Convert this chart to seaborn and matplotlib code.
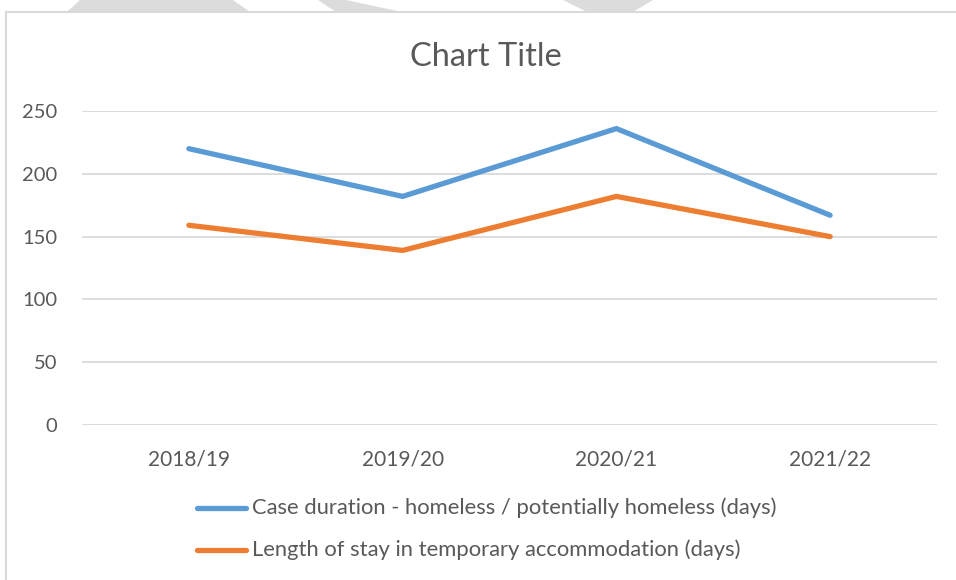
import pandas as pd
import matplotlib
matplotlib.use("Agg")
import matplotlib.pyplot as plt
import seaborn as sns
from matplotlib.patches import Polygon, Rectangle

years = ["2018/19", "2019/20", "2020/21", "2021/22"]
case_duration = [220, 182, 236, 167]
stay_length = [159, 139, 182, 150]
series_names = ["Case duration - homeless / potentially homeless (days)",
                "Length of stay in temporary accommodation (days)"]
colors = ["#5B9BD5", "#ED7D31"]

df = pd.DataFrame({
    "year": years * 2,
    "days": case_duration + stay_length,
    "series": [series_names[0]] * 4 + [series_names[1]] * 4,
})

sns.set_style("white")
plt.rcParams["font.family"] = ["Lato", "DejaVu Sans"]

W, H = 956, 580
fig = plt.figure(figsize=(W / 100, H / 100), dpi=100)


def px(x, y):
    return (x / W, 1 - y / H)


# bits of the page background peeking in above the chart frame
for pts in [[(80, 0), (233, 0), (250, 12), (67, 12)],
            [(318, 0), (346, 0), (402, 12), (336, 12)],
            [(563, 0), (653, 0), (633, 12), (587, 12)]]:
    fig.patches.append(Polygon([px(*p) for p in pts], closed=True,
                               transform=fig.transFigure, facecolor="#dcdcdc",
                               edgecolor="none"))
fig.patches.append(Rectangle(px(6, 600), (W + 10) / W, 588 / H,
                             transform=fig.transFigure, facecolor="none",
                             edgecolor="#d9d9d9", lw=1.5))

x0, y0 = px(82, 425)
x1, y1 = px(937, 111)
ax = fig.add_axes([x0, y0, x1 - x0, y1 - y0])

sns.lineplot(data=df, x="year", y="days", hue="series", palette=colors,
             linewidth=3.8, ax=ax, sort=False, legend=False)
for line in ax.lines:
    line.set_solid_capstyle("round")
    line.set_solid_joinstyle("miter")

ax.set_xlim(-0.5, 3.5)
ax.set_ylim(0, 250)
ax.set_yticks(range(0, 251, 50))
ax.grid(axis="y", color="#d9d9d9", lw=1.3)
ax.set_axisbelow(True)
for s in ax.spines.values():
    s.set_visible(False)
ax.tick_params(axis="both", length=0, colors="#595959", labelsize=14.5)
ax.tick_params(axis="x", labelsize=15, pad=18)
ax.tick_params(axis="y", pad=18)
ax.set_xlabel("")
ax.set_ylabel("")

fig.text(486 / W, px(0, 57)[1], "Chart Title", ha="center", va="center",
         fontsize=23.5, color="#595959")

# legend drawn by hand, two rows
for i, (name, c) in enumerate(zip(series_names, colors)):
    yy = [508, 550][i]
    fig.lines.append(plt.Line2D([197 / W, 246 / W], [px(0, yy)[1]] * 2,
                                transform=fig.transFigure, color=c, lw=3.8,
                                solid_capstyle="round"))
    fig.text(252 / W, px(0, yy)[1], name, ha="left", va="center",
             fontsize=15.8, color="#595959")

fig.savefig("out.png", dpi=100)
